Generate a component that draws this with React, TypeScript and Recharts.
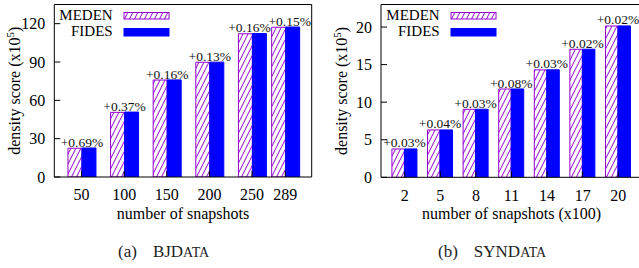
import React from 'react';
import { BarChart, Bar, XAxis, YAxis, LabelList, Legend } from 'recharts';

// ---------- data ----------
const bjSnapshots = [50, 100, 150, 200, 250, 289];
const bjMeden = [22.5, 50.6, 75.9, 89.8, 112.1, 117.2];
const bjFides = [22.7, 50.8, 76.0, 89.9, 112.3, 117.4];
const bjGain = ['+0.69%', '+0.37%', '+0.16%', '+0.13%', '+0.16%', '+0.15%'];
const bjYTicks = [0, 30, 60, 90, 120];

const synSnapshots = [2, 5, 8, 11, 14, 17, 20];
const synMeden = [3.77, 6.3, 9.05, 11.75, 14.3, 17.04, 20.14];
const synFides = [3.78, 6.31, 9.06, 11.76, 14.31, 17.05, 20.15];
const synGain = ['+0.03%', '+0.04%', '+0.03%', '+0.08%', '+0.03%', '+0.02%', '+0.02%'];
const synYTicks = [0, 5, 10, 15, 20];

const seriesNames = ['MEDEN', 'FIDES'];

// ---------- styles ----------
const FONT = '"Liberation Serif", "Times New Roman", serif';
const PURPLE = '#9400d3';
const BLUE = '#0000ff';
const TICK_FS = 16;
const TITLE_FS = 16;

type Row = { snap: number; meden: number; fides: number; gain: string };

function buildRows(snaps: number[], meden: number[], fides: number[], gain: string[]): Row[] {
  return snaps.map((s, i) => ({ snap: s, meden: meden[i], fides: fides[i], gain: gain[i] }));
}

const bjRows = buildRows(bjSnapshots, bjMeden, bjFides, bjGain);
const synRows = buildRows(synSnapshots, synMeden, synFides, synGain);

function YTitle(props: any) {
  const vb = props.viewBox || {};
  const cx = vb.x + (vb.width || 0) - 34;
  const cy = vb.y + vb.height / 2;
  return (
    <text
      x={cx}
      y={cy}
      transform={`rotate(-90, ${cx}, ${cy})`}
      textAnchor="middle"
      fontSize={TITLE_FS}
      fontFamily={FONT}
      fill="#000"
    >
      density score (x10
      <tspan dy={-6} fontSize={11}>5</tspan>
      <tspan dy={6}>)</tspan>
    </text>
  );
}

function XTitle(props: any) {
  const vb = props.viewBox || {};
  return (
    <text
      x={vb.x + vb.width / 2}
      y={vb.y + 42}
      textAnchor="middle"
      fontSize={TITLE_FS}
      fontFamily={FONT}
      fill="#000"
    >
      {props.text}
    </text>
  );
}

function makeLegend(patternId: string) {
  return (props: any) => {
    const payload = [...(props.payload || [])].sort(
      (a: any, b: any) => seriesNames.indexOf(a.value) - seriesNames.indexOf(b.value)
    );
    return (
      <svg width={130} height={42} style={{ display: 'block', overflow: 'visible' }}>
        {payload.map((p: any, i: number) => {
          const isHatch = p.value === seriesNames[0];
          return (
            <g key={i}>
              <text
                x={58.7}
                y={20 + i * 16}
                textAnchor="end"
                fontSize={15}
                fontFamily={FONT}
                fill="#000"
              >
                {p.value}
              </text>
              <rect
                x={70}
                y={12.5 + i * 16}
                width={45}
                height={isHatch ? 6.5 : 7.5}
                fill={isHatch ? `url(#${patternId})` : BLUE}
                stroke={isHatch ? PURPLE : BLUE}
                strokeWidth={1}
              />
            </g>
          );
        })}
      </svg>
    );
  };
}

function makeGainLabel(shift: Record<number, number>) {
  return (props: any) => {
    const { x, y, width, value, index } = props;
    const dx = shift[index] || 0;
    return (
      <text
        x={Number(x) + Number(width) + dx}
        y={Number(y) - 1.5}
        textAnchor="middle"
        fontSize={13.5}
        fontFamily={FONT}
        fill="#111"
      >
        {value}
      </text>
    );
  };
}

type PanelProps = {
  rows: Row[];
  xDomain: [number, number];
  xTicks: number[];
  yDomain: [number, number];
  yTicks: number[];
  width: number;
  height: number;
  plot: { top: number; right: number; bottom: number; left: number };
  barSize: number;
  xTitle: string;
  patternId: string;
  labelShift: Record<number, number>;
};

function Panel(p: PanelProps) {
  // axes take 1px each; margins are the plot insets minus that
  const margin = {
    top: p.plot.top - 1,
    right: p.plot.right - 1,
    bottom: p.plot.bottom - 1,
    left: p.plot.left - 1,
  };
  return (
    <BarChart
      width={p.width}
      height={p.height}
      data={p.rows}
      margin={margin}
      barGap={0}
      style={{ fontFamily: FONT }}
    >
      <defs>
        <pattern id={p.patternId} patternUnits="userSpaceOnUse" width={5} height={10}>
          <rect width={5} height={10} fill="#fff" />
          <path
            d="M0,10 L5,0 M-0.5,1 L0.5,-1 M4.5,11 L5.5,9"
            stroke={PURPLE}
            strokeWidth={1}
            fill="none"
          />
        </pattern>
      </defs>
      <Bar
        xAxisId="b"
        yAxisId="l"
        dataKey="meden"
        name={seriesNames[0]}
        fill={`url(#${p.patternId})`}
        stroke={PURPLE}
        strokeWidth={1}
        barSize={p.barSize}
        isAnimationActive={false}
      >
        <LabelList dataKey="gain" content={makeGainLabel(p.labelShift)} />
      </Bar>
      <Bar
        xAxisId="b"
        yAxisId="l"
        dataKey="fides"
        name={seriesNames[1]}
        fill={BLUE}
        stroke={BLUE}
        strokeWidth={1}
        barSize={p.barSize}
        isAnimationActive={false}
      />
      <XAxis
        xAxisId="b"
        dataKey="snap"
        type="number"
        domain={p.xDomain}
        ticks={p.xTicks}
        allowDataOverflow
        interval={0}
        height={1}
        tickSize={-6}
        tickMargin={18}
        stroke="#000"
        tick={{ fill: '#000', fontSize: TICK_FS, fontFamily: FONT }}
        label={<XTitle text={p.xTitle} />}
      />
      <XAxis
        xAxisId="t"
        orientation="top"
        type="number"
        domain={p.xDomain}
        ticks={p.xTicks}
        allowDataOverflow
        interval={0}
        height={1}
        tickSize={-6}
        tick={false}
        stroke="#000"
      />
      <YAxis
        yAxisId="l"
        type="number"
        domain={p.yDomain}
        ticks={p.yTicks}
        allowDataOverflow
        interval={0}
        width={1}
        tickSize={-6}
        tickMargin={15}
        stroke="#000"
        tick={{ fill: '#000', fontSize: TICK_FS, fontFamily: FONT }}
        label={<YTitle />}
      />
      <YAxis
        yAxisId="r"
        orientation="right"
        type="number"
        domain={p.yDomain}
        ticks={p.yTicks}
        allowDataOverflow
        interval={0}
        width={1}
        tickSize={-6}
        tick={false}
        stroke="#000"
      />
      <Legend
        layout="vertical"
        align="center"
        verticalAlign="middle"
        content={makeLegend(p.patternId)}
        wrapperStyle={{ position: 'absolute', left: p.plot.left, top: 0, width: 130, height: 42 }}
      />
    </BarChart>
  );
}

const captionStyle: React.CSSProperties = {
  position: 'absolute',
  top: 240,
  fontSize: 17,
  fontFamily: FONT,
  color: '#222',
  whiteSpace: 'nowrap',
  lineHeight: '22px',
};

const scStyle: React.CSSProperties = { fontVariant: 'small-caps', fontSize: '1.15em' };

export default function App() {
  return (
    <div
      style={{
        position: 'absolute',
        left: 0,
        top: 0,
        width: 639,
        height: 268,
        overflow: 'hidden',
        background: '#fff',
        fontFamily: FONT,
      }}
    >
      <div style={{ position: 'absolute', left: 0, top: 0 }}>
        <Panel
          rows={bjRows}
          xDomain={[18, 320]}
          xTicks={bjSnapshots}
          yDomain={[0, 135]}
          yTicks={bjYTicks}
          width={320}
          height={230}
          plot={{ top: 4.5, right: 8.3, bottom: 53, left: 54.3 }}
          barSize={14}
          xTitle="number of snapshots"
          patternId="hatchA"
          labelShift={{ 4: -3, 5: 4 }}
        />
      </div>
      <div style={{ position: 'absolute', left: 320, top: 0 }}>
        <Panel
          rows={synRows}
          xDomain={[0, 22]}
          xTicks={synSnapshots}
          yDomain={[0, 23]}
          yTicks={synYTicks}
          width={330}
          height={230}
          plot={{ top: 4.5, right: 8, bottom: 52.7, left: 61 }}
          barSize={12.5}
          xTitle="number of snapshots (x100)"
          patternId="hatchB"
          labelShift={{}}
        />
      </div>
      <div style={{ ...captionStyle, left: 118 }}>
        (a)<span style={{ marginLeft: 16 }}>BJD<span style={scStyle}>ata</span></span>
      </div>
      <div style={{ ...captionStyle, left: 438 }}>
        (b)<span style={{ marginLeft: 16 }}>SYND<span style={scStyle}>ata</span></span>
      </div>
    </div>
  );
}
